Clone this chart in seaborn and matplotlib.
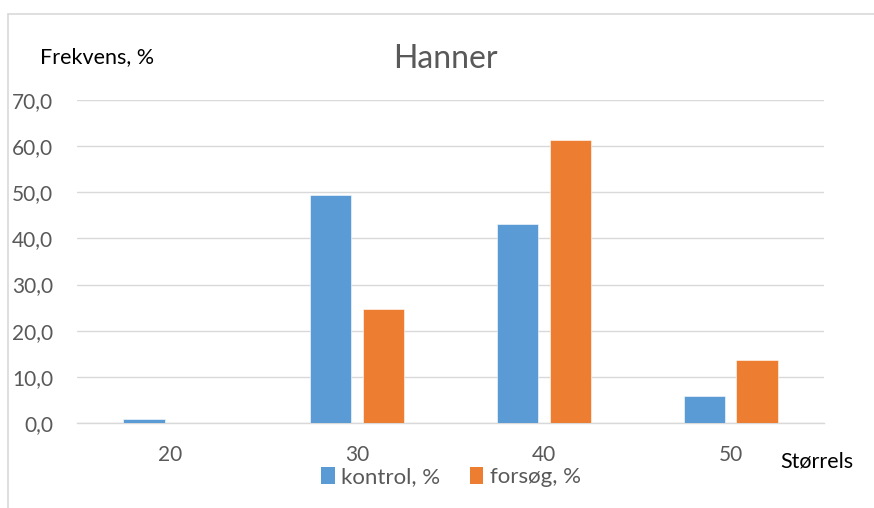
import matplotlib
matplotlib.use("Agg")
import matplotlib.pyplot as plt
import seaborn as sns
import pandas as pd
from matplotlib.ticker import FuncFormatter, MultipleLocator
from matplotlib.lines import Line2D
from matplotlib.patches import Patch

sizes = ["20", "30", "40", "50"]
kontrol = [0.9, 49.4, 43.2, 5.9]
forsog = [0.0, 24.7, 61.3, 13.7]
series_names = ["kontrol, %", "forsøg, %"]
colors = ["#5B9BD5", "#ED7D31"]

df = pd.DataFrame({
    "size": sizes * 2,
    "value": kontrol + forsog,
    "series": [series_names[0]] * len(sizes) + [series_names[1]] * len(sizes),
})

sns.set_theme(style="white")
plt.rcParams["font.family"] = ["Lato", "DejaVu Sans"]

W, H = 874, 508
fig = plt.figure(figsize=(W / 100, H / 100), dpi=100)
ax = fig.add_axes([77 / W, 1 - 423 / H, (824 - 77) / W, (423 - 100) / H])

sns.barplot(data=df, x="size", y="value", hue="series", palette=colors,
            width=0.567, gap=0.22, ax=ax, legend=False, saturation=1,
            edgecolor="white", linewidth=0.4, zorder=3)

ax.set_xlim(-0.5, 3.5)
ax.set_ylim(0, 70)
ax.yaxis.set_major_locator(MultipleLocator(10))
ax.yaxis.set_major_formatter(FuncFormatter(lambda v, p: f"{v:.1f}".replace(".", ",")))
ax.grid(axis="y", color="#d9d9d9", linewidth=1.0, zorder=0)
ax.set_axisbelow(True)
for s in ["top", "right", "left"]:
    ax.spines[s].set_visible(False)
ax.spines["bottom"].set_color("#d9d9d9")
ax.spines["bottom"].set_linewidth(1.0)
ax.tick_params(axis="both", length=0, labelsize=15, labelcolor="#595959")
ax.tick_params(axis="x", pad=16)
ax.tick_params(axis="y", pad=17)
ax.set_xlabel("")
ax.set_ylabel("")

# title and axis texts
fig.text(445 / W, 1 - 68 / H, "Hanner", ha="center", va="baseline",
         fontsize=23, color="#595959")
fig.text(40 / W, 1 - 63 / H, "Frekvens, %", ha="left", va="baseline",
         fontsize=15.5, color="black")
fig.text(780 / W, 1 - 467 / H, "Størrels", ha="left", va="baseline",
         fontsize=15.5, color="black")

handles = [Patch(facecolor=c, edgecolor="none") for c in colors]
leg = fig.legend(handles, series_names, ncol=2, frameon=False, loc="center",
                 bbox_to_anchor=(451 / W, 1 - 477 / H), fontsize=16,
                 handlelength=0.6, handleheight=0.8, handletextpad=0.3,
                 columnspacing=1.3, labelcolor="#595959",
                 borderpad=0, borderaxespad=0)

# chart area border (top and left visible)
fig.add_artist(Line2D([8 / W, 1.0], [1 - 13.5 / H] * 2, transform=fig.transFigure,
                      color="#d9d9d9", linewidth=1.2))
fig.add_artist(Line2D([8 / W] * 2, [1 - 13.5 / H, 0.0], transform=fig.transFigure,
                      color="#d9d9d9", linewidth=1.2))

fig.savefig("out.png", dpi=100, facecolor="white")
